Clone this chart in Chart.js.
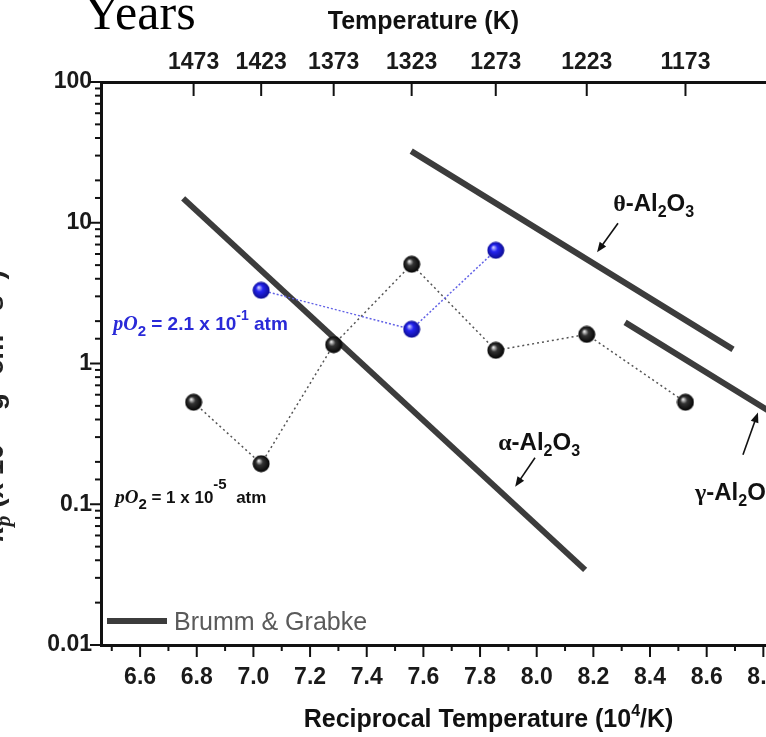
<!DOCTYPE html>
<html>
<head>
<meta charset="utf-8">
<script src="https://cdn.jsdelivr.net/npm/chart.js@4.4.1/dist/chart.umd.min.js"></script>
<style>
  html, body { margin: 0; padding: 0; overflow: hidden; background: #fff; width: 766px; height: 737px; }
  #wrap { position: absolute; left: 0; top: 0; width: 840px; height: 737px; }
</style>
</head>
<body>
<div id="wrap"><canvas id="kpChart" width="840" height="737"></canvas></div>
<script>
// temperatures of the measurements (K); bottom axis is 10^4/T
const temperatures = [1473, 1423, 1373, 1323, 1273, 1223, 1173];
const lowPO2Rates = [0.53, 0.194, 1.36, 5.07, 1.24, 1.61, 0.53];   // pO2 = 1e-5 atm
const highPO2Temps = [1423, 1323, 1273];
const highPO2Rates = [3.31, 1.75, 6.37];                          // pO2 = 2.1e-1 atm

// Brumm & Grabke lines (x = 10^4/T)
const alphaX = [6.752, 8.171], alphaY = [14.9, 0.0342];
const thetaX = [7.557, 8.693], thetaY = [32.3, 1.26];
const gammaX = [8.312, 8.95],  gammaY = [1.96, 0.317];

const yTickLabels = ['0.01', '0.1', '1', '10', '100'];

const FONT = "'Liberation Sans', Arial, Helvetica, sans-serif";
const SERIF = "'Liberation Serif', 'Times New Roman', serif";
const recip = t => 1e4 / t;
const pts = (xs, ys) => xs.map((x, i) => ({ x: x, y: ys[i] }));

function sphere(hi, core, rim) {
  const c = document.createElement('canvas');
  c.width = c.height = 18;
  const g = c.getContext('2d');
  const grad = g.createRadialGradient(6.5, 6, 0.5, 9, 9, 9);
  grad.addColorStop(0, hi);
  grad.addColorStop(0.35, core);
  grad.addColorStop(1, rim);
  g.fillStyle = grad;
  g.beginPath();
  g.arc(9, 9, 8.5, 0, Math.PI * 2);
  g.fill();
  return c;
}

function rich(ctx, x, y, parts, color, align) {
  ctx.fillStyle = color;
  ctx.textBaseline = 'alphabetic';
  ctx.textAlign = 'left';
  if (align === 'center') {
    let w = 0;
    parts.forEach(p => { ctx.font = p.f; w += ctx.measureText(p.t).width; });
    x -= w / 2;
  }
  parts.forEach(p => {
    ctx.font = p.f;
    ctx.fillText(p.t, x, y + (p.dy || 0));
    x += ctx.measureText(p.t).width;
  });
}

function arrow(ctx, x1, y1, x2, y2) {
  const a = Math.atan2(y2 - y1, x2 - x1);
  ctx.save();
  ctx.strokeStyle = '#111';
  ctx.fillStyle = '#111';
  ctx.lineWidth = 1.6;
  ctx.beginPath();
  ctx.moveTo(x1, y1);
  ctx.lineTo(x2 - 6 * Math.cos(a), y2 - 6 * Math.sin(a));
  ctx.stroke();
  ctx.beginPath();
  ctx.moveTo(x2, y2);
  ctx.lineTo(x2 - 10 * Math.cos(a) + 4 * Math.sin(a), y2 - 10 * Math.sin(a) - 4 * Math.cos(a));
  ctx.lineTo(x2 - 10 * Math.cos(a) - 4 * Math.sin(a), y2 - 10 * Math.sin(a) + 4 * Math.cos(a));
  ctx.closePath();
  ctx.fill();
  ctx.restore();
}

const big = 'bold 24px ' + FONT, sub = 'bold 16px ' + FONT;
const phase = (g) => [
  { t: g, f: 'bold 24px ' + SERIF },
  { t: '-Al', f: big }, { t: '2', f: sub, dy: 6 },
  { t: 'O', f: big }, { t: '3', f: sub, dy: 6 }
];

// phase labels: text anchor and arrow in data units
const phaseLabels = [
  { g: 'θ', x: 8.270, y: 12.1, ax: [8.287, 8.213], ay: [9.91, 6.17] },
  { g: 'α', x: 7.864, y: 0.244, ax: [7.994, 7.924], ay: [0.214, 0.133] },
  { g: 'γ', x: 8.559, y: 0.108, ax: [8.728, 8.781], ay: [0.225, 0.448] }
];

const tickMarks = {
  id: 'tickMarks',
  afterDraw(chart) {
    const { ctx, chartArea: a, scales } = chart;
    ctx.save();
    ctx.strokeStyle = '#111';
    ctx.lineWidth = 2;
    const seg = (x1, y1, x2, y2) => { ctx.beginPath(); ctx.moveTo(x1, y1); ctx.lineTo(x2, y2); ctx.stroke(); };
    scales.x.ticks.forEach(t => {
      const n = Math.round(t.value * 10);
      if (Math.abs(t.value * 10 - n) > 1e-6) return;
      const px = scales.x.getPixelForValue(t.value);
      seg(px, a.bottom, px, a.bottom + (n % 2 === 0 ? 12 : 6));
    });
    scales.x2.ticks.forEach(t => {
      const px = scales.x2.getPixelForValue(t.value);
      seg(px, a.top, px, a.top + 14);
    });
    scales.y.ticks.forEach(t => {
      const lg = Math.log10(t.value);
      const major = Math.abs(lg - Math.round(lg)) < 1e-9;
      const py = scales.y.getPixelForValue(t.value);
      seg(a.left - (major ? 11 : 6), py, a.left, py);
    });
    ctx.restore();
  }
};

const annotations = {
  id: 'annotations',
  afterDatasetsDraw(chart) {
    const { ctx, chartArea: a, scales: { x, y } } = chart;
    const X = v => x.getPixelForValue(v), Y = v => y.getPixelForValue(v);
    ctx.save();

    phaseLabels.forEach(p => {
      rich(ctx, X(p.x), Y(p.y), phase(p.g), '#111');
      arrow(ctx, X(p.ax[0]), Y(p.ay[0]), X(p.ax[1]), Y(p.ay[1]));
    });

    rich(ctx, X(6.505), Y(1.72), [
      { t: 'pO', f: 'italic bold 20px ' + SERIF },
      { t: '2', f: 'bold 15px ' + FONT, dy: 6 },
      { t: ' = 2.1 x 10', f: 'bold 19px ' + FONT },
      { t: '-1', f: 'bold 14px ' + FONT, dy: -10 },
      { t: ' atm', f: 'bold 19px ' + FONT }
    ], '#2a2ad8');

    rich(ctx, X(6.512), Y(0.1025), [
      { t: 'pO', f: 'italic bold 19px ' + SERIF },
      { t: '2', f: 'bold 15px ' + FONT, dy: 6 },
      { t: ' = 1 x 10', f: 'bold 17px ' + FONT },
      { t: '-5', f: 'bold 15px ' + FONT, dy: -14 },
      { t: '  atm', f: 'bold 17px ' + FONT }
    ], '#111');

    // legend
    ctx.strokeStyle = '#3c3c3c';
    ctx.lineWidth = 6;
    ctx.beginPath();
    ctx.moveTo(a.left + 6, a.bottom - 24);
    ctx.lineTo(a.left + 66, a.bottom - 24);
    ctx.stroke();
    ctx.fillStyle = '#5a5a5a';
    ctx.font = '25px ' + FONT;
    ctx.textAlign = 'left';
    ctx.textBaseline = 'alphabetic';
    ctx.fillText('Brumm & Grabke', a.left + 73, a.bottom - 15);

    // axis titles
    rich(ctx, X(7.6), 29, [{ t: 'Temperature (K)', f: 'bold 25px ' + FONT }], '#111', 'center');
    rich(ctx, X(7.83), 727, [
      { t: 'Reciprocal Temperature (10', f: 'bold 25px ' + FONT },
      { t: '4', f: 'bold 16px ' + FONT, dy: -11 },
      { t: '/K)', f: 'bold 25px ' + FONT }
    ], '#111', 'center');

    // left title, mostly outside the crop
    ctx.save();
    ctx.translate(3, Y(0.5));
    ctx.rotate(-Math.PI / 2);
    rich(ctx, 0, 0, [
      { t: 'k', f: 'italic bold 30px ' + SERIF },
      { t: 'p', f: 'italic bold 22px ' + SERIF, dy: 7 },
      { t: ' (x 10', f: 'bold 28px ' + FONT },
      { t: '-12', f: 'bold 18px ' + FONT, dy: -12 },
      { t: ' g', f: 'bold 28px ' + FONT },
      { t: '2', f: 'bold 18px ' + FONT, dy: -12 },
      { t: ' cm', f: 'bold 28px ' + FONT },
      { t: '-4', f: 'bold 18px ' + FONT, dy: -12 },
      { t: ' s', f: 'bold 28px ' + FONT },
      { t: '-1', f: 'bold 18px ' + FONT, dy: -12 },
      { t: ')', f: 'bold 28px ' + FONT }
    ], '#222', 'center');
    ctx.restore();

    // page caption cut at the top
    ctx.fillStyle = '#000';
    ctx.font = '50px ' + SERIF;
    ctx.fillText('Years', 84, 29);
    ctx.restore();
  }
};

const tickFont = { family: FONT, size: 23, weight: 'bold' };

new Chart(document.getElementById('kpChart').getContext('2d'), {
  type: 'line',
  data: {
    datasets: [
      {
        label: 'pO2 = 2.1 x 10^-1 atm',
        data: pts(highPO2Temps.map(recip), highPO2Rates),
        borderColor: '#6262e6',
        borderWidth: 1.5,
        borderDash: [2, 2],
        pointStyle: sphere('#c8c8ff', '#2424f0', '#0a0a8a'),
        pointRadius: 9
      },
      {
        label: 'pO2 = 1 x 10^-5 atm',
        data: pts(temperatures.map(recip), lowPO2Rates),
        borderColor: '#555',
        borderWidth: 1.5,
        borderDash: [2, 3],
        pointStyle: sphere('#e6e6e6', '#333', '#000'),
        pointRadius: 9
      },
      { label: 'alpha', data: pts(alphaX, alphaY), borderColor: '#3c3c3c', borderWidth: 6, pointRadius: 0 },
      { label: 'theta', data: pts(thetaX, thetaY), borderColor: '#3c3c3c', borderWidth: 6, pointRadius: 0 },
      { label: 'gamma', data: pts(gammaX, gammaY), borderColor: '#3c3c3c', borderWidth: 6, pointRadius: 0 }
    ]
  },
  options: {
    responsive: false,
    animation: false,
    layout: { padding: { left: 0, right: 20, top: 0, bottom: 0 } },
    plugins: { legend: { display: false }, tooltip: { enabled: false } },
    scales: {
      x: {
        type: 'linear', position: 'bottom', min: 6.462, max: 9.0,
        afterFit: s => { s.height = 92; s.paddingLeft = 0; s.paddingRight = 0; },
        border: { width: 3, color: '#111' },
        grid: { display: false, drawTicks: false },
        ticks: {
          stepSize: 0.1, includeBounds: false, autoSkip: false, maxRotation: 0,
          padding: 19, color: '#1a1a1a', font: tickFont,
          callback: v => Math.round(v * 10) % 2 === 0 ? v.toFixed(1) : ''
        }
      },
      x2: {
        type: 'linear', position: 'top', min: 6.462, max: 9.0,
        afterBuildTicks: s => { s.ticks = temperatures.map(t => ({ value: recip(t) })); },
        afterFit: s => { s.height = 82; s.paddingLeft = 0; s.paddingRight = 0; },
        border: { width: 3, color: '#111' },
        grid: { display: false, drawTicks: false },
        ticks: {
          autoSkip: false, maxRotation: 0, padding: 6, color: '#1a1a1a', font: tickFont,
          callback: v => String(Math.round(1e4 / v))
        }
      },
      y: {
        type: 'logarithmic', position: 'left', min: 0.01, max: 100,
        afterFit: s => { s.width = 101; s.paddingTop = 0; s.paddingBottom = 0; },
        border: { width: 3, color: '#111' },
        grid: { display: false, drawTicks: false },
        ticks: {
          autoSkip: false, padding: 9, color: '#1a1a1a', font: tickFont,
          callback: v => {
            const lg = Math.log10(v);
            return Math.abs(lg - Math.round(lg)) < 1e-9 ? yTickLabels[Math.round(lg) + 2] : '';
          }
        }
      }
    }
  },
  plugins: [tickMarks, annotations]
});
</script>
</body>
</html>
